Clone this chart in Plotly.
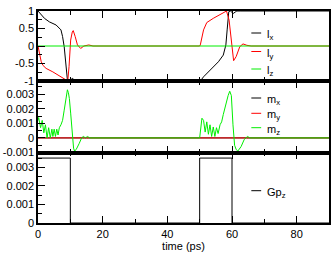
import plotly.graph_objects as go

# ---------------- data ----------------
# panel 1: angular momentum components
lx_t = [0, 1, 2, 3.5, 5.6, 7.1, 7.6, 8.1, 8.6, 9.1, 9.6, 10.2, 10.6, 11.0, 11.6, 12.5,
        50, 50.2, 51.2, 52.7, 54.2, 55.8, 57.3, 58.1, 58.5, 59.0, 59.5, 60.0, 60.4, 61.0, 61.5, 62.5, 90]
lx_v = [1, 0.88, 0.79, 0.69, 0.6, 0.46, 0.27, -0.02, -0.59, -0.97, -1.0, -0.97, -0.92, -0.95, -1.0, -1.0,
        -1.0, -1.0, -0.88, -0.73, -0.59, -0.45, -0.26, 0.03, 0.46, 0.98, 1.0, 0.95, 0.93, 0.97, 1.0, 1.0, 1.0]

ly_t = [0, 0.5, 1.0, 1.5, 2.5, 4.6, 7.1, 8.6, 9.2, 9.6, 10.1, 10.6, 10.9, 11.5, 12.2, 13.2, 14.2, 15.7, 17,
        50, 50.2, 51.2, 52.2, 54.2, 56.3, 57.8, 58.3, 59.1, 59.8, 60.5, 61.3, 62.4, 63.4, 64.6, 65.9, 90]
ly_v = [0, -0.25, -0.45, -0.55, -0.64, -0.74, -0.88, -0.97, -1.0, -0.59, 0.17, 0.4, 0.44, 0.27, 0.03, -0.07, 0.0, 0.03, 0,
        0, 0.03, 0.46, 0.67, 0.79, 0.89, 0.98, 1.0, 0.74, 0.08, -0.42, -0.3, -0.02, 0.06, 0.02, 0, 0]

lz_t = [0, 90]
lz_v = [0, 0]

# panel 2: magnetisation components
mx_t = [0, 90]
mx_v = [0, 0]
my_t = [0, 90]
my_v = [0, 0]
mz_t = [0, 0.2, 0.8, 1.3, 1.8, 2.3, 2.8, 3.3, 3.8, 4.3, 4.6, 5.0, 5.4, 5.8, 6.2, 6.6,
        7.1, 7.6, 8.1, 8.6, 9.1, 9.4, 9.7, 10.1, 10.6, 11.0, 11.3, 11.8, 12.7, 13.5, 14.0, 14.7, 15.3, 16.0,
        50, 50.3, 50.7, 51.2, 51.7, 52.2, 52.7, 53.2, 53.7, 54.2, 54.7, 55.2, 55.7, 56.3, 56.8, 57.3,
        57.8, 58.3, 58.8, 59.3, 59.8, 60.3, 60.8, 61.3, 61.8, 62.8, 63.8, 64.8, 65.5, 90]
mz_v = [0.0012, 0.0014, 0.0007, 0.0012, 0.00035, 0.0009, 0.0, 0.0007, 0.0, 0.0006, 0.0001, 0.0006, 0.0001, 0.0006, 0.0002, 0.0007,
        0.0009, 0.0012, 0.0019, 0.0026, 0.0033, 0.0031, 0.0027, 0.0017, 0.0002, -0.0007, -0.0009, -0.0008, -0.0004, 0.0, 0.0001, 0.0, 0.0001, 0.0,
        0.0, 0.0007, 0.00135, 0.0012, 0.0004, 0.0011, 0.00025, 0.0009, 0.0001, 0.00075, 0.0001, 0.0007, 0.0003, 0.0009, 0.0011, 0.0016,
        0.0021, 0.0025, 0.0029, 0.0032, 0.0029, 0.0009, -0.0005, -0.0008, -0.0009, -0.0006, -0.0001, 0.0001, 0.0, 0.0]

# panel 3: pulse
gp_t = [0, 10, 10, 50, 50, 60, 60, 90]
gp_v = [0.0035, 0.0035, 0, 0, 0.0035, 0.0035, 0, 0]

x_ticks = [0, 20, 40, 60, 80]
y1_ticks = [-1, -0.5, 0, 0.5, 1]
y1_labels = ["-1", "-0.5", "0", "0.5", "1"]
y2_ticks = [-0.001, 0, 0.001, 0.002, 0.003]
y2_labels = ["-0.001", "0", "0.001", "0.002", "0.003"]
y3_ticks = [0, 0.001, 0.002, 0.003]
y3_labels = ["0", "0.001", "0.002", "0.003"]

BLACK = "#000000"
RED = "#ff0000"
GREEN = "#00ee00"

fig = go.Figure()
lw = 1
fig.add_trace(go.Scatter(x=lx_t, y=lx_v, mode="lines", line=dict(color=BLACK, width=lw), xaxis="x", yaxis="y"))
fig.add_trace(go.Scatter(x=ly_t, y=ly_v, mode="lines", line=dict(color=RED, width=lw), xaxis="x", yaxis="y"))
fig.add_trace(go.Scatter(x=lz_t, y=lz_v, mode="lines", line=dict(color=GREEN, width=lw), xaxis="x", yaxis="y"))
fig.add_trace(go.Scatter(x=mx_t, y=mx_v, mode="lines", line=dict(color=BLACK, width=lw), xaxis="x2", yaxis="y2"))
fig.add_trace(go.Scatter(x=my_t, y=my_v, mode="lines", line=dict(color=RED, width=lw), xaxis="x2", yaxis="y2"))
fig.add_trace(go.Scatter(x=mz_t, y=mz_v, mode="lines", line=dict(color=GREEN, width=lw), xaxis="x2", yaxis="y2"))
fig.add_trace(go.Scatter(x=gp_t, y=gp_v, mode="lines", line=dict(color=BLACK, width=lw), xaxis="x3", yaxis="y3"))

FONT = "Liberation Sans, Arial, sans-serif"
tickfont = dict(family=FONT, size=11, color="black")

def xax(domain_anchor, show):
    return dict(range=[0, 90], tickvals=x_ticks, ticks="inside", ticklen=7, tickwidth=1,
                tickcolor="black", showline=True, linecolor="black", linewidth=1.5, mirror="ticks",
                showgrid=False, zeroline=False, showticklabels=show, tickfont=tickfont,
                minor=dict(dtick=10, tick0=0, ticks="inside", ticklen=4, tickcolor="black", showgrid=False),
                anchor=domain_anchor)

def yax(rng, vals, labels, minor_dtick, domain):
    return dict(range=rng, tickvals=vals, ticktext=labels, ticks="inside", ticklen=7, tickwidth=1,
                tickcolor="black", showline=True, linecolor="black", linewidth=1.5, mirror=True,
                showgrid=False, zeroline=False, tickfont=tickfont, domain=domain,
                minor=dict(dtick=minor_dtick, tick0=0, ticks="inside", ticklen=4, tickcolor="black", showgrid=False))

d1 = [0.6698, 1.0]
d2 = [0.3325, 0.6698]
d3 = [0.0, 0.3325]

x3 = xax("y3", True)
x3["title"] = dict(text="time (ps)", font=dict(family=FONT, size=11, color="black"), standoff=2)

fig.update_layout(
    width=334, height=256,
    margin=dict(l=35, r=3, t=11, b=33),
    paper_bgcolor="white", plot_bgcolor="white",
    showlegend=False,
    xaxis=xax("y", False),
    xaxis2=xax("y2", False),
    xaxis3=x3,
    yaxis=yax([-1, 1], y1_ticks, y1_labels, 0.25, d1),
    yaxis2=yax([-0.001, 0.0039], y2_ticks, y2_labels, 0.0005, d2),
    yaxis3=yax([0, 0.0038], y3_ticks, y3_labels, 0.0005, d3),
)

# legends (drawn as small line samples + labels in pixel-derived paper coords)
def px2paper(px, py):
    return (px - 35) / 296.0, (223 - py) / 212.0

legend_rows = [
    (33, BLACK, "l<sub>x</sub>"), (51.5, RED, "l<sub>y</sub>"), (69, GREEN, "l<sub>z</sub>"),
    (98, BLACK, "m<sub>x</sub>"), (113.3, RED, "m<sub>y</sub>"), (127.7, GREEN, "m<sub>z</sub>"),
    (190.7, BLACK, "Gp<sub>z</sub>"),
]
for py, col, txt in legend_rows:
    xa, ya = px2paper(252, py)
    xb, _ = px2paper(262, py)
    fig.add_shape(type="line", xref="paper", yref="paper", x0=xa, x1=xb, y0=ya, y1=ya,
                  line=dict(color=col, width=1))
    xt, yt = px2paper(267, py + 2)
    fig.add_annotation(xref="paper", yref="paper", x=xt, y=yt, text=txt, showarrow=False,
                       xanchor="left", yanchor="middle", font=dict(family=FONT, size=11, color="black"),
                       borderpad=0)

fig.write_html("out.html")
